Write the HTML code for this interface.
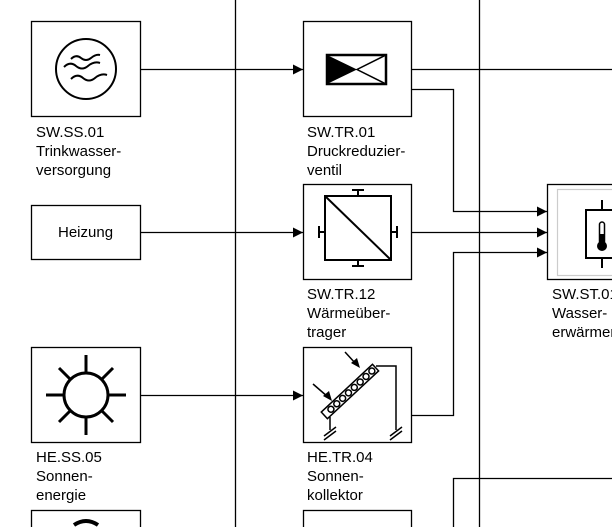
<!DOCTYPE html>
<html><head><style>
html,body{margin:0;padding:0;background:#fff;}
svg{display:block}
text{font-family:"Liberation Sans",Arial,sans-serif;font-size:15px;fill:#000}
</style></head><body>
<svg width="612" height="527" viewBox="0 0 612 527">
<defs><marker id="a" markerWidth="10" markerHeight="10" refX="10" refY="5" orient="auto" markerUnits="userSpaceOnUse"><path d="M0,0L10,5L0,10z" fill="#000"/></marker></defs>
<g stroke="#000" stroke-width="1.3" fill="none">
<line x1="235.5" y1="0" x2="235.5" y2="527"/>
<line x1="479.5" y1="0" x2="479.5" y2="527"/>
<rect x="31.5" y="21.5" width="109" height="95"/>
<rect x="31.5" y="205.5" width="109" height="54"/>
<rect x="31.5" y="347.5" width="109" height="95"/>
<rect x="31.5" y="510.5" width="109" height="30"/>
<rect x="303.5" y="21.5" width="108" height="95"/>
<rect x="303.5" y="184.5" width="108" height="95"/>
<rect x="303.5" y="347.5" width="108" height="95"/>
<rect x="303.5" y="510.5" width="108" height="30"/>
<rect x="547.5" y="184.5" width="80" height="95"/>
<line x1="140" y1="69.5" x2="303" y2="69.5" marker-end="url(#a)"/>
<line x1="140" y1="232.5" x2="303" y2="232.5" marker-end="url(#a)"/>
<line x1="140" y1="395.5" x2="303" y2="395.5" marker-end="url(#a)"/>
<line x1="411" y1="69.5" x2="612" y2="69.5"/>
<polyline points="411,89.5 453.5,89.5 453.5,211.5 547,211.5" marker-end="url(#a)"/>
<line x1="411" y1="232.5" x2="547" y2="232.5" marker-end="url(#a)"/>
<polyline points="411,415.5 453.5,415.5 453.5,252.5 547,252.5" marker-end="url(#a)"/>
<polyline points="453.5,527 453.5,478.5 612,478.5"/>
</g>
<rect x="557.5" y="189.5" width="60" height="86" fill="none" stroke="#ccc" stroke-width="1.2"/>
<g stroke="#000" stroke-width="2" fill="none">
<circle cx="86" cy="69" r="30"/>
<path d="M64,67 q6,-6 12,-1 t12,0 t12,-3"/>
<path d="M71,59 q5,-5 10,-1 t10,0 t9,-3"/>
<path d="M71,79 q6,-6 12,-1 t12,0 t12,-3"/>
</g>
<rect x="327" y="55" width="59" height="29" fill="none" stroke="#000" stroke-width="2.5"/>
<path d="M327,55 L357,69.5 L327,84z" fill="#000"/>
<path d="M386,55 L357,69.5 L386,84" fill="none" stroke="#000" stroke-width="1.5"/>
<g stroke="#000" stroke-width="2" fill="none">
<rect x="325" y="196" width="66" height="64"/>
<line x1="325" y1="196" x2="391" y2="260"/>
<line x1="358" y1="196" x2="358" y2="190"/><line x1="352" y1="190" x2="364" y2="190"/>
<line x1="358" y1="260" x2="358" y2="266"/><line x1="352" y1="266" x2="364" y2="266"/>
<line x1="325" y1="232" x2="319" y2="232"/><line x1="319" y1="226" x2="319" y2="238"/>
<line x1="391" y1="232" x2="397" y2="232"/><line x1="397" y1="226" x2="397" y2="238"/>
</g>
<g stroke="#000" stroke-width="3" fill="none">
<circle cx="86" cy="395" r="22"/>
<line x1="86" y1="355" x2="86" y2="373"/><line x1="86" y1="417" x2="86" y2="435"/>
<line x1="46" y1="395" x2="64" y2="395"/><line x1="108" y1="395" x2="126" y2="395"/>
<line x1="59" y1="368" x2="71" y2="380"/><line x1="101" y1="410" x2="113" y2="422"/>
<line x1="113" y1="368" x2="101" y2="380"/><line x1="71" y1="410" x2="59" y2="422"/>
</g>
<g stroke="#000" stroke-width="1.5" fill="none">
<g transform="translate(324,415) rotate(-43)">
<rect x="0" y="-4" width="70" height="9"/>
<circle cx="9" cy="0.5" r="3"/><circle cx="17" cy="0.5" r="3"/><circle cx="25" cy="0.5" r="3"/><circle cx="33" cy="0.5" r="3"/><circle cx="41" cy="0.5" r="3"/><circle cx="49" cy="0.5" r="3"/><circle cx="57" cy="0.5" r="3"/><circle cx="65" cy="0.5" r="3"/>
</g>
<polyline points="376,366 396,366 396,430"/>
<line x1="330" y1="417" x2="330" y2="430"/>
<line x1="324" y1="436" x2="336" y2="427"/><line x1="324" y1="440" x2="336" y2="431"/>
<line x1="390" y1="436" x2="402" y2="427"/><line x1="390" y1="440" x2="402" y2="431"/>
<line x1="345" y1="352" x2="356" y2="364"/><line x1="313" y1="384" x2="328" y2="397"/>
</g>
<path d="M360,368 L351,363 L357,358z" fill="#000"/>
<path d="M332,401 L323,396 L329,391z" fill="#000"/>
<g stroke="#000" stroke-width="2" fill="none">
<rect x="586" y="210" width="40" height="48"/>
<line x1="602" y1="200" x2="602" y2="210"/><line x1="602" y1="258" x2="602" y2="268"/>
<rect x="599.5" y="222" width="5" height="22" rx="2.5" stroke-width="1.5"/>
</g>
<circle cx="602" cy="246" r="5" fill="#000"/>
<rect x="600" y="234" width="4" height="10" fill="#000"/>
<path d="M74,525 q12,-8 24,0" stroke="#000" stroke-width="4" fill="none"/>
<text x="36" y="137">SW.SS.01</text><text x="36" y="156">Trinkwasser-</text><text x="36" y="175">versorgung</text>
<text x="58" y="237">Heizung</text>
<text x="307" y="137">SW.TR.01</text><text x="307" y="156">Druckreduzier-</text><text x="307" y="175">ventil</text>
<text x="307" y="299">SW.TR.12</text><text x="307" y="318">Wärmeüber-</text><text x="307" y="337">trager</text>
<text x="36" y="462">HE.SS.05</text><text x="36" y="481">Sonnen-</text><text x="36" y="500">energie</text>
<text x="307" y="462">HE.TR.04</text><text x="307" y="481">Sonnen-</text><text x="307" y="500">kollektor</text>
<text x="552" y="299">SW.ST.01</text><text x="552" y="318">Wasser-</text><text x="552" y="337">erwärmer</text>
</svg>
</body></html>
